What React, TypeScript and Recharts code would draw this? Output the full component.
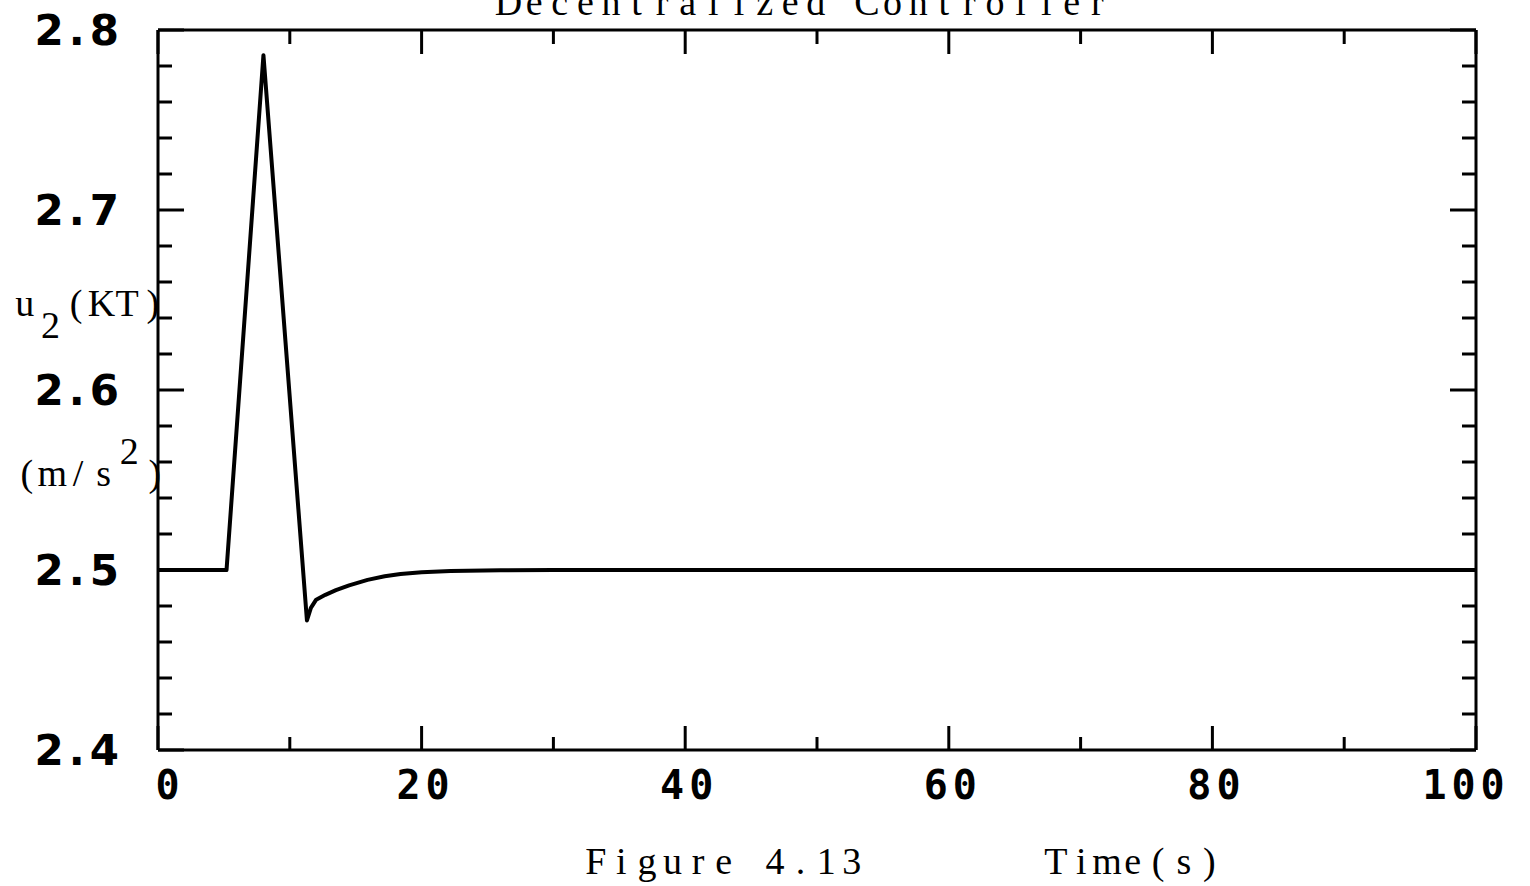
import { LineChart, Line, XAxis, YAxis, Label } from "recharts";

// response of u2 after the disturbance, sampled from the simulation trace
const TIME = [0, 5.2, 8.0, 11.3, 11.6, 12.0, 12.7, 13.5, 14.5, 15.9, 17.2, 18.4, 20, 22.2, 26, 30, 100];
const U2 = [2.5, 2.5, 2.786, 2.472, 2.479, 2.4835, 2.4862, 2.4888, 2.4915, 2.4945, 2.4965, 2.4978, 2.4988, 2.4994, 2.4999, 2.5, 2.5];

const X_MAJOR = [0, 20, 40, 60, 80, 100];
const X_MINOR = [10, 30, 50, 70, 90];
const Y_MAJOR = [2.4, 2.5, 2.6, 2.7, 2.8];
const Y_MINOR = [2.42, 2.44, 2.46, 2.48, 2.52, 2.54, 2.56, 2.58, 2.62, 2.64, 2.66, 2.68, 2.72, 2.74, 2.76, 2.78];

const data = TIME.map((t, i) => ({ t, u: U2[i] }));

const INK = "#000";
const SERIF = "'Liberation Serif', 'Times New Roman', serif";
const CELL = 25.6; // typewriter cell width
const TXT = { fontFamily: SERIF, fontSize: 38, fill: INK, textAnchor: "middle" as const };

const tickStroke = { stroke: INK, strokeWidth: 3 };
const blank = () => "";
const X_DOMAIN: [number, number] = [0, 100];
const Y_DOMAIN: [number, number] = [2.4, 2.8];

// x position of every character centre, so the serif face is laid out in fixed cells
function cells(x0: number, s: string) {
  return Array.from(s).map((_, i) => (x0 + CELL * (i + 0.5)).toFixed(1)).join(" ");
}

function Mono({ x, y, s }: { x: number; y: number; s: string }) {
  return (
    <text x={cells(x, s)} y={y} {...TXT}>
      {s}
    </text>
  );
}

function Title() {
  const s = "Decentralized Controller";
  return <Mono x={803 - (CELL * s.length) / 2} y={15} s={s} />;
}

function YUnits() {
  const x = 12;
  const x2 = 14;
  return (
    <g>
      <text y={316} {...TXT}>
        <tspan x={cells(x, "u")}>u</tspan>
        <tspan x={cells(x + CELL, "2")} dy={22}>2</tspan>
        <tspan x={cells(x + CELL * 2, "(KT)")} dy={-22}>(KT)</tspan>
      </text>
      <text y={486} {...TXT}>
        <tspan x={cells(x2, "(m/s")}>(m/s</tspan>
        <tspan x={cells(x2 + CELL * 4, "2")} dy={-22}>2</tspan>
        <tspan x={cells(x2 + CELL * 5, ")")} dy={22}>)</tspan>
      </text>
    </g>
  );
}

function XCaption() {
  return (
    <g>
      <Mono x={583} y={874} s="Figure 4.13" />
      <Mono x={1043} y={874} s="Time(s)" />
    </g>
  );
}

// plotter-style time labels; the end labels sit a little inside the frame
function TimeTick(props: any) {
  const { x, y, payload } = props;
  const v = payload.value;
  const shift = v === 0 ? 12 : v === 100 ? -10 : 4;
  return (
    <text
      x={x + shift}
      y={y}
      dy="0.72em"
      textAnchor="middle"
      fill={INK}
      fontSize={40}
      fontWeight="bold"
      fontFamily="'DejaVu Sans Mono', monospace"
      letterSpacing={5}
    >
      {v}
    </text>
  );
}

export default function App() {
  const frameX = { dataKey: "t", type: "number" as const, domain: X_DOMAIN, allowDataOverflow: true, mirror: true, height: 1, interval: 0 as const, tickFormatter: blank, tickLine: tickStroke };
  const frameY = { dataKey: "u", type: "number" as const, domain: Y_DOMAIN, allowDataOverflow: true, mirror: true, width: 1, interval: 0 as const, tickFormatter: blank, tickLine: tickStroke };
  return (
    <div style={{ position: "absolute", left: 0, top: 0, width: 1530, height: 886, background: "#fff" }}>
      <LineChart width={1530} height={886} data={data} margin={{ top: 30, right: 54, bottom: 66, left: 0 }}>
        {/* labelled axes */}
        <XAxis
          xAxisId="x"
          dataKey="t"
          type="number"
          domain={X_DOMAIN}
          allowDataOverflow
          ticks={X_MAJOR}
          interval={0}
          tickLine={false}
          axisLine={false}
          tickSize={0}
          tickMargin={20}
          height={70}
          tick={<TimeTick />}
        >
          <Label content={XCaption} />
        </XAxis>
        <YAxis
          yAxisId="y"
          type="number"
          domain={Y_DOMAIN}
          allowDataOverflow
          ticks={Y_MAJOR}
          interval={0}
          tickLine={false}
          axisLine={false}
          tickSize={0}
          tickMargin={34}
          width={158}
          tickFormatter={(v) => Number(v).toFixed(1)}
          tick={{ fill: INK, fontSize: 42, fontWeight: "bold", fontFamily: "'DejaVu Sans', sans-serif", letterSpacing: 5 }}
        >
          <Label content={YUnits} />
        </YAxis>

        {/* frame and inward ticks */}
        <XAxis xAxisId="bMaj" orientation="bottom" {...frameX} ticks={X_MAJOR} tickSize={24} axisLine={tickStroke} />
        <XAxis xAxisId="bMin" orientation="bottom" {...frameX} ticks={X_MINOR} tickSize={12} axisLine={false} />
        <XAxis xAxisId="tMaj" orientation="top" {...frameX} ticks={X_MAJOR} tickSize={24} axisLine={tickStroke}>
          <Label content={Title} />
        </XAxis>
        <XAxis xAxisId="tMin" orientation="top" {...frameX} ticks={X_MINOR} tickSize={13} axisLine={false} />
        <YAxis yAxisId="lMaj" orientation="left" {...frameY} ticks={Y_MAJOR} tickSize={26} axisLine={tickStroke} />
        <YAxis yAxisId="lMin" orientation="left" {...frameY} ticks={Y_MINOR} tickSize={13} axisLine={false} />
        <YAxis yAxisId="rMaj" orientation="right" {...frameY} ticks={Y_MAJOR} tickSize={26} axisLine={tickStroke} />
        <YAxis yAxisId="rMin" orientation="right" {...frameY} ticks={Y_MINOR} tickSize={13} axisLine={false} />

        <Line
          xAxisId="x"
          yAxisId="y"
          type="linear"
          dataKey="u"
          stroke={INK}
          strokeWidth={4}
          strokeLinejoin="round"
          dot={false}
          isAnimationActive={false}
        />
      </LineChart>
    </div>
  );
}
